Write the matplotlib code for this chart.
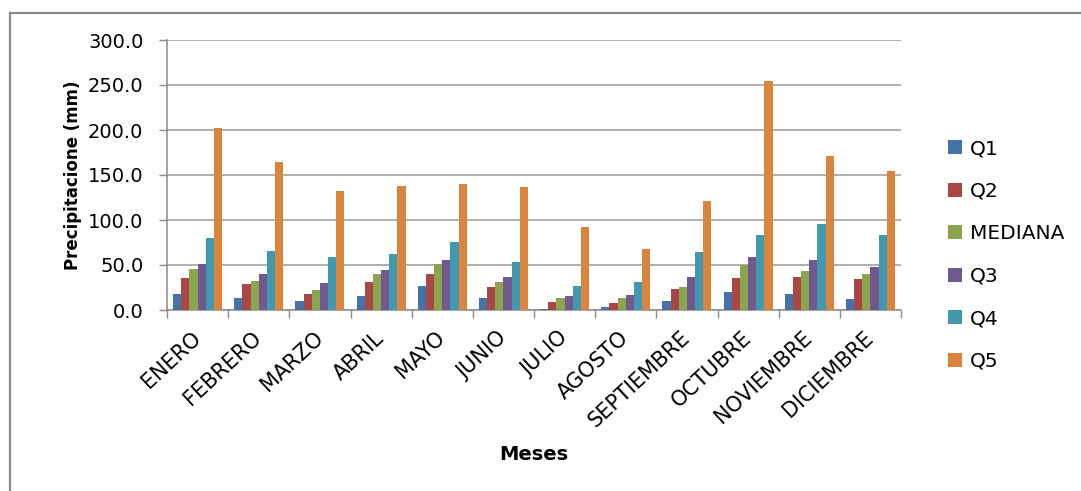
import numpy as np
import matplotlib.pyplot as plt
from matplotlib.lines import Line2D

# Precipitation quantiles per month (mm)
meses = ["ENERO", "FEBRERO", "MARZO", "ABRIL", "MAYO", "JUNIO", "JULIO",
         "AGOSTO", "SEPTIEMBRE", "OCTUBRE", "NOVIEMBRE", "DICIEMBRE"]
q1 = [18.0, 13.0, 10.4, 15.5, 27.0, 13.0, 1.5, 3.0, 10.4, 19.6, 18.0, 11.9]
q2 = [36.0, 28.5, 18.0, 30.7, 39.6, 25.6, 9.3, 7.8, 23.3, 36.0, 37.0, 34.4]
mediana = [46.0, 32.0, 22.0, 39.6, 50.7, 30.8, 13.0, 13.0, 25.6, 50.4, 43.3, 39.6]
q3 = [51.0, 39.6, 29.6, 44.8, 55.2, 37.0, 15.5, 16.7, 37.0, 59.0, 55.2, 47.4]
q4 = [80.0, 65.5, 58.5, 62.6, 75.2, 53.7, 27.0, 30.8, 64.0, 83.0, 95.6, 83.0]
q5 = [202.6, 164.0, 132.6, 137.8, 140.0, 136.3, 91.9, 67.8, 121.0, 254.8, 170.7, 154.0]

series = [("Q1", q1), ("Q2", q2), ("MEDIANA", mediana),
          ("Q3", q3), ("Q4", q4), ("Q5", q5)]
colors = ["#4572A7", "#AA4643", "#89A54E", "#71588F", "#4198AF", "#DB843D"]

plt.rcParams['font.family'] = ['DejaVu Sans']
W, H = 1081, 491
fig = plt.figure(figsize=(W / 100, H / 100), dpi=100)
ax = fig.add_axes([167 / W, 1 - 310 / H, (901 - 167) / W, 270 / H])

x = np.arange(len(meses))
w = 1 / 7.5
for i, (name, vals) in enumerate(series):
    ax.bar(x + (i - 2.5) * w, vals, width=w, color=colors[i], label=name,
           zorder=3)

ax.set_xlim(-0.5, len(meses) - 0.5)
ax.set_ylim(0, 300)
ax.set_yticks(np.arange(0, 301, 50))
ax.set_yticklabels([f"{v:.1f}" for v in np.arange(0, 301, 50)], fontsize=14)
ax.yaxis.grid(True, color="#9a9a9a", linewidth=1.1, zorder=0)
ax.tick_params(axis='y', length=6, width=1, color="#8c8c8c", pad=11)

# category boundaries get the tick marks, month names sit on the centres
ax.set_xticks(np.arange(-0.5, len(meses) + 0.5, 1))
ax.set_xticklabels([])
ax.tick_params(axis='x', which='major', length=6, width=1, color="#8c8c8c")
ax.set_xticks(x, minor=True)
ax.set_xticklabels(meses, minor=True, rotation=43, ha='right', va='center',
                   rotation_mode='anchor', fontsize=15)
ax.tick_params(axis='x', which='minor', length=0, pad=18)

for s in ["top", "right"]:
    ax.spines[s].set_visible(False)
for s in ["left", "bottom"]:
    ax.spines[s].set_color("#8c8c8c")
    ax.spines[s].set_linewidth(1.1)

ax.set_ylabel("Precipitacione (mm)", fontsize=12, fontweight='bold',
              labelpad=4)
fig.text(534 / W, 1 - 455 / H, "Meses", fontsize=14, fontweight='bold',
         ha='center', va='center')

fig.legend(loc='center left', bbox_to_anchor=(938 / W, 1 - 255 / H),
           frameon=False, fontsize=14.5, handlelength=0.7, handleheight=0.7,
           handletextpad=0.4, labelspacing=1.17, borderpad=0)

# outer chart frame (top and left edges)
fig.add_artist(Line2D([10 / W, 1.0], [1 - 13 / H, 1 - 13 / H],
                      transform=fig.transFigure, color="#8a8a8a", lw=1.6))
fig.add_artist(Line2D([10 / W, 10 / W], [1 - 13 / H, 0.0],
                      transform=fig.transFigure, color="#8a8a8a", lw=1.6))

fig.savefig("out.png", dpi=100)
